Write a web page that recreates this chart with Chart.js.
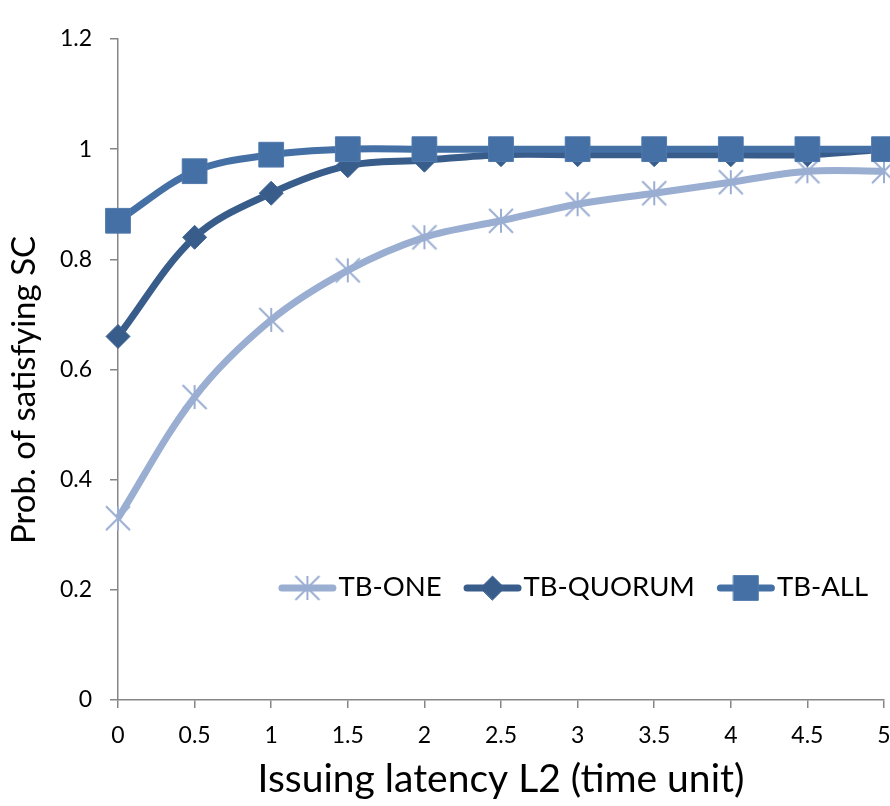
<!DOCTYPE html>
<html>
<head>
<meta charset="utf-8">
<script src="https://cdn.jsdelivr.net/npm/chart.js@4.4.1/dist/chart.umd.min.js"></script>
<style>
  html, body { margin: 0; padding: 0; background: #ffffff; }
  #wrap { width: 890px; height: 806px; position: relative; }
</style>
</head>
<body>
<div id="wrap"><canvas id="chart" width="890" height="806"></canvas></div>
<script>
// Issuing latency L2 (time unit)
const latency = ['0', '0.5', '1', '1.5', '2', '2.5', '3', '3.5', '4', '4.5', '5'];

// Probability of satisfying SC per consistency level
const tbOne    = [0.33, 0.55, 0.69, 0.78, 0.84, 0.87, 0.90, 0.92, 0.94, 0.96, 0.96];
const tbQuorum = [0.66, 0.84, 0.92, 0.97, 0.98, 0.99, 0.99, 0.99, 0.99, 0.99, 1.00];
const tbAll    = [0.87, 0.96, 0.99, 1.00, 1.00, 1.00, 1.00, 1.00, 1.00, 1.00, 1.00];

const seriesNames = ['TB-ONE', 'TB-QUORUM', 'TB-ALL'];
const yTitle = 'Prob. of satisfying SC';
const xTitle = 'Issuing latency L2 (time unit)';

const COLOR_ONE = '#9aaed2';
const COLOR_QUORUM = '#385d8b';
const COLOR_ALL = '#4470a5';
const AXIS_GREY = '#868686';
const FONT = "Lato, 'Open Sans', sans-serif";

// Asterisk marker: one vertical stroke plus two diagonals
function asteriskMarker(color) {
  const c = document.createElement('canvas');
  c.width = 28; c.height = 28;
  const g = c.getContext('2d');
  g.strokeStyle = color;
  g.lineWidth = 2;
  g.beginPath();
  g.moveTo(14, 2);  g.lineTo(14, 26);
  g.moveTo(2, 2);   g.lineTo(26, 26);
  g.moveTo(26, 2);  g.lineTo(2, 26);
  g.stroke();
  return c;
}
const starImg = asteriskMarker(COLOR_ONE);

// Draws a dataset's marker (same shapes as the plotted points)
function drawMarker(ctx, ds, cx, cy) {
  if (ds.pointStyle === starImg) {
    ctx.drawImage(starImg, cx - starImg.width / 2, cy - starImg.height / 2);
    return;
  }
  ctx.fillStyle = ds.pointBackgroundColor;
  ctx.strokeStyle = ds.pointBorderColor;
  ctx.lineWidth = ds.pointBorderWidth;
  ctx.beginPath();
  const r = ds.pointRadius;
  if (ds.pointStyle === 'rect') {
    const h = Math.SQRT1_2 * r;
    ctx.rect(cx - h, cy - h, 2 * h, 2 * h);
  } else {
    ctx.moveTo(cx - r, cy); ctx.lineTo(cx, cy - r); ctx.lineTo(cx + r, cy); ctx.lineTo(cx, cy + r);
    ctx.closePath();
  }
  ctx.fill();
  ctx.stroke();
}

// Legend inside the plot area (line segment + marker + name), and the
// vertical axis title centred a little below the middle of the axis
const annotations = {
  id: 'annotations',
  afterDraw(chart) {
    const ctx = chart.ctx;
    const area = chart.chartArea;

    ctx.save();
    ctx.translate(24, 390);
    ctx.rotate(-Math.PI / 2);
    ctx.font = '33px ' + FONT;
    ctx.fillStyle = '#000000';
    ctx.textAlign = 'center';
    ctx.textBaseline = 'middle';
    ctx.fillText(yTitle, 0, 0);
    ctx.restore();

    const y = 588;
    const segLen = 58, textGap = 2, itemGap = 22;
    ctx.save();
    ctx.font = '27.5px ' + FONT;
    const items = chart.data.datasets.map(ds => ({ ds, w: ctx.measureText(ds.label).width }));
    const total = items.reduce((s, it) => s + segLen + textGap + it.w, 0) + itemGap * (items.length - 1);
    let x = area.right - 16 - total;
    items.forEach(({ ds, w }) => {
      ctx.strokeStyle = ds.borderColor;
      ctx.lineWidth = 7;
      ctx.lineCap = 'round';
      ctx.beginPath();
      ctx.moveTo(x + 3.5, y);
      ctx.lineTo(x + segLen - 3.5, y);
      ctx.stroke();
      drawMarker(ctx, ds, x + segLen / 2, y);
      ctx.fillStyle = '#000000';
      ctx.textAlign = 'left';
      ctx.textBaseline = 'middle';
      ctx.fillText(ds.label, x + segLen + textGap, y - 1);
      x += segLen + textGap + w + itemGap;
    });
    ctx.restore();
  }
};

const tickFmt = v => String(parseFloat(Number(v).toFixed(1)));

new Chart(document.getElementById('chart'), {
  type: 'line',
  data: {
    labels: latency,
    datasets: [
      {
        label: seriesNames[0], data: tbOne, order: 2,
        borderColor: COLOR_ONE, borderWidth: 7,
        pointStyle: starImg, pointRadius: 12,
        pointBackgroundColor: COLOR_ONE, pointBorderColor: COLOR_ONE, pointBorderWidth: 2,
        tension: 0.35, clip: false
      },
      {
        label: seriesNames[1], data: tbQuorum, order: 1,
        borderColor: COLOR_QUORUM, borderWidth: 7,
        pointStyle: 'rectRot', pointRadius: 12,
        pointBackgroundColor: COLOR_QUORUM, pointBorderColor: '#3f6596', pointBorderWidth: 1,
        tension: 0.35, clip: false
      },
      {
        label: seriesNames[2], data: tbAll, order: 0,
        borderColor: COLOR_ALL, borderWidth: 7,
        pointStyle: 'rect', pointRadius: 17.5,
        pointBackgroundColor: COLOR_ALL, pointBorderColor: '#5079ad', pointBorderWidth: 1,
        tension: 0.35, clip: false
      }
    ]
  },
  options: {
    responsive: false,
    animation: false,
    events: [],
    layout: { autoPadding: false, padding: { top: 39, right: 6, left: 0, bottom: 0 } },
    plugins: { legend: { display: false }, tooltip: { enabled: false } },
    scales: {
      x: {
        type: 'category',
        offset: false,
        grid: { display: true, drawOnChartArea: false, drawTicks: true, tickLength: 8, color: AXIS_GREY, lineWidth: 1.5 },
        border: { display: true, color: AXIS_GREY, width: 1.5 },
        ticks: { color: '#000000', font: { family: FONT, size: 23 }, padding: 14, maxRotation: 0, autoSkip: false },
        title: {
          display: true, text: xTitle, color: '#000000',
          font: { family: FONT, size: 39, lineHeight: 1.0 }, padding: { top: 0, bottom: 7 }
        },
        afterFit(scale) {
          scale.height = 106;
          scale.paddingLeft = 0;
          scale.paddingRight = 0;
        }
      },
      y: {
        type: 'linear', min: 0, max: 1.2,
        grid: { display: true, drawOnChartArea: false, drawTicks: true, tickLength: 8, color: AXIS_GREY, lineWidth: 1.5 },
        border: { display: true, color: AXIS_GREY, width: 1.5 },
        ticks: { stepSize: 0.2, color: '#000000', font: { family: FONT, size: 23 }, padding: 18, callback: tickFmt },
        afterFit(scale) {
          scale.width = 118;
          scale.paddingTop = 0;
          scale.paddingBottom = 0;
        }
      }
    }
  },
  plugins: [annotations]
});
</script>
</body>
</html>
